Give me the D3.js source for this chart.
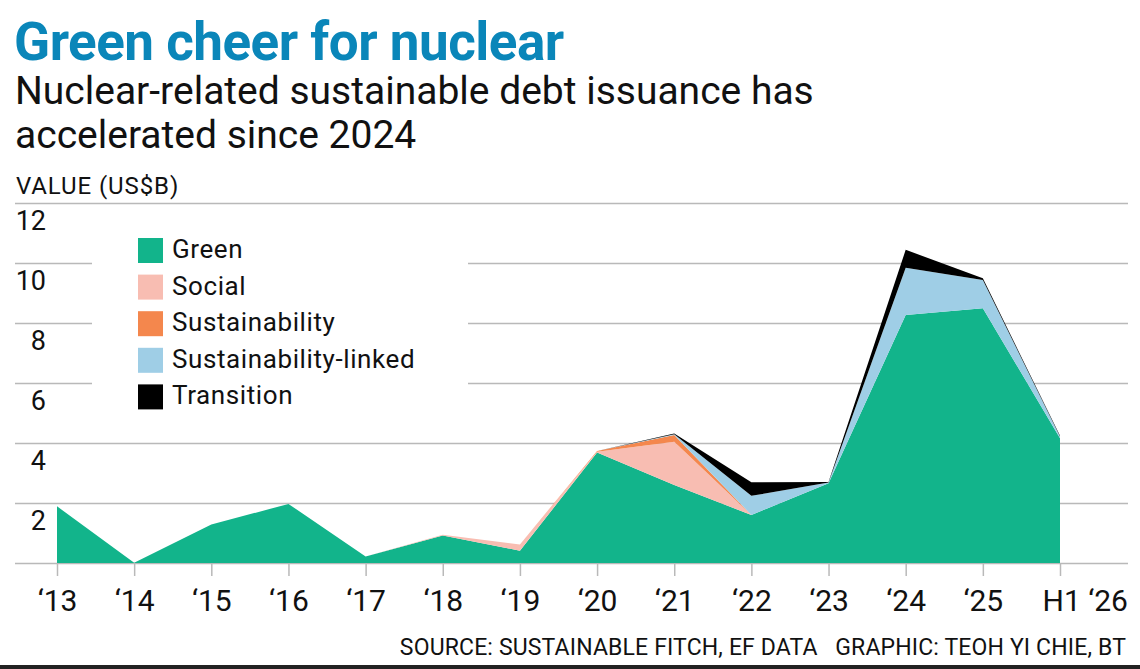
<!DOCTYPE html>
<html>
<head>
<meta charset="utf-8">
<script src="https://cdn.jsdelivr.net/npm/d3@7"></script>
<style>
  body { margin: 0; background: #fff; }
  text { font-family: Roboto, "Noto Sans", sans-serif; }
</style>
</head>
<body>
<script>
// categories and series (US$ billions)
const years = ["\u201813", "\u201814", "\u201815", "\u201816", "\u201817", "\u201818", "\u201819",
               "\u201820", "\u201821", "\u201822", "\u201823", "\u201824", "\u201825", "H1 \u201826"];
const green          = [1.89, 0.01, 1.28, 1.97, 0.22, 0.92, 0.41, 3.68, 2.60, 1.60, 2.66, 8.27, 8.49, 4.16];
const social         = [0, 0, 0, 0, 0, 0.02, 0.21, 0.03, 1.44, 0, 0, 0, 0, 0];
const sustainability = [0, 0, 0, 0, 0, 0, 0, 0.02, 0.23, 0, 0, 0, 0, 0];
const susLinked      = [0, 0, 0, 0, 0, 0, 0, 0, 0.02, 0.64, 0.02, 1.57, 0.94, 0.06];
const transition     = [0, 0, 0, 0, 0, 0, 0, 0, 0.03, 0.45, 0.02, 0.60, 0.06, 0.02];
const seriesNames  = ["Green", "Social", "Sustainability", "Sustainability-linked", "Transition"];
const seriesColors = ["#12b48b", "#f8bdb2", "#f4874d", "#9fcee6", "#000000"];
const yTicks = [0, 2, 4, 6, 8, 10, 12];

const W = 1140, H = 669;
const svg = d3.select("body").append("svg")
  .attr("width", W)
  .attr("height", H);

// headings
svg.append("text")
  .attr("x", 14).attr("y", 60)
  .attr("font-size", 53).attr("font-weight", 700)
  .attr("fill", "#0a86b9")
  .attr("letter-spacing", -0.5)
  .text("Green cheer for nuclear");
svg.append("text")
  .attr("x", 15).attr("y", 104)
  .attr("font-size", 39).attr("fill", "#111")
  .text("Nuclear-related sustainable debt issuance has");
svg.append("text")
  .attr("x", 15).attr("y", 148)
  .attr("font-size", 39).attr("fill", "#111")
  .text("accelerated since 2024");
svg.append("text")
  .attr("x", 16).attr("y", 194)
  .attr("font-size", 24).attr("fill", "#111")
  .attr("letter-spacing", 0.9)
  .text("VALUE (US$B)");

// scales
const x = d3.scalePoint()
  .domain(years)
  .range([57, 1060]);
const y = d3.scaleLinear()
  .domain([0, 12])
  .range([563, 203]);

// gridlines + y labels
const yAxis = svg.append("g")
  .attr("transform", "translate(15,0)")
  .call(d3.axisLeft(y).tickValues(yTicks).tickSize(-1113).tickFormat(d => d === 0 ? "" : d));
yAxis.select(".domain").remove();
yAxis.selectAll(".tick line").attr("stroke", "#b9b9b9").attr("stroke-width", 1.5);
yAxis.selectAll(".tick text")
  .attr("x", 31).attr("dy", 26)
  .attr("text-anchor", "end")
  .attr("font-size", 27).attr("fill", "#111")
  .attr("font-family", "Roboto, sans-serif");

// legend background hides the gridlines behind it
svg.append("rect")
  .attr("x", 92).attr("y", 225)
  .attr("width", 376).attr("height", 190)
  .attr("fill", "#fff");

// stacked areas
const rows = years.map((yr, i) => ({
  year: yr,
  "Green": green[i],
  "Social": social[i],
  "Sustainability": sustainability[i],
  "Sustainability-linked": susLinked[i],
  "Transition": transition[i]
}));
const stacked = d3.stack().keys(seriesNames)(rows);
const area = d3.area()
  .x(d => x(d.data.year))
  .y0(d => y(d[0]))
  .y1(d => y(d[1]));

svg.append("g")
  .selectAll("path")
  .data(stacked)
  .enter().append("path")
  .attr("d", area)
  .attr("fill", (d, i) => seriesColors[i]);

// x axis ticks and labels
const xAxis = svg.append("g")
  .attr("transform", "translate(0,563)")
  .call(d3.axisBottom(x).tickSize(13).tickPadding(14));
xAxis.select(".domain").remove();
xAxis.selectAll(".tick line").attr("stroke", "#b9b9b9").attr("stroke-width", 1.5);
xAxis.selectAll(".tick text")
  .attr("font-size", 30).attr("fill", "#111")
  .attr("font-family", "Roboto, sans-serif");
// the half-year label starts just left of its tick
xAxis.selectAll(".tick text")
  .filter(d => d === years[years.length - 1])
  .attr("text-anchor", "start")
  .attr("x", -18);

// legend
const legend = svg.append("g")
  .attr("transform", "translate(138,238)");
const item = legend.selectAll("g")
  .data(seriesNames)
  .enter().append("g")
  .attr("transform", (d, i) => "translate(0," + (i * 36.6) + ")");
item.append("rect")
  .attr("width", 25).attr("height", 25)
  .attr("fill", (d, i) => seriesColors[i]);
item.append("text")
  .attr("x", 34).attr("y", 20)
  .attr("font-size", 26).attr("fill", "#111")
  .attr("letter-spacing", 0.6)
  .text(d => d);

// source line
svg.append("text")
  .attr("x", 1126).attr("y", 655)
  .attr("text-anchor", "end")
  .attr("font-size", 23).attr("fill", "#111")
  .attr("letter-spacing", 0.15)
  .attr("xml:space", "preserve")
  .text("SOURCE: SUSTAINABLE FITCH, EF DATA   GRAPHIC: TEOH YI CHIE, BT");

// bottom rule
svg.append("rect")
  .attr("x", 0).attr("y", 665)
  .attr("width", W).attr("height", 4)
  .attr("fill", "#222");
</script>
</body>
</html>
